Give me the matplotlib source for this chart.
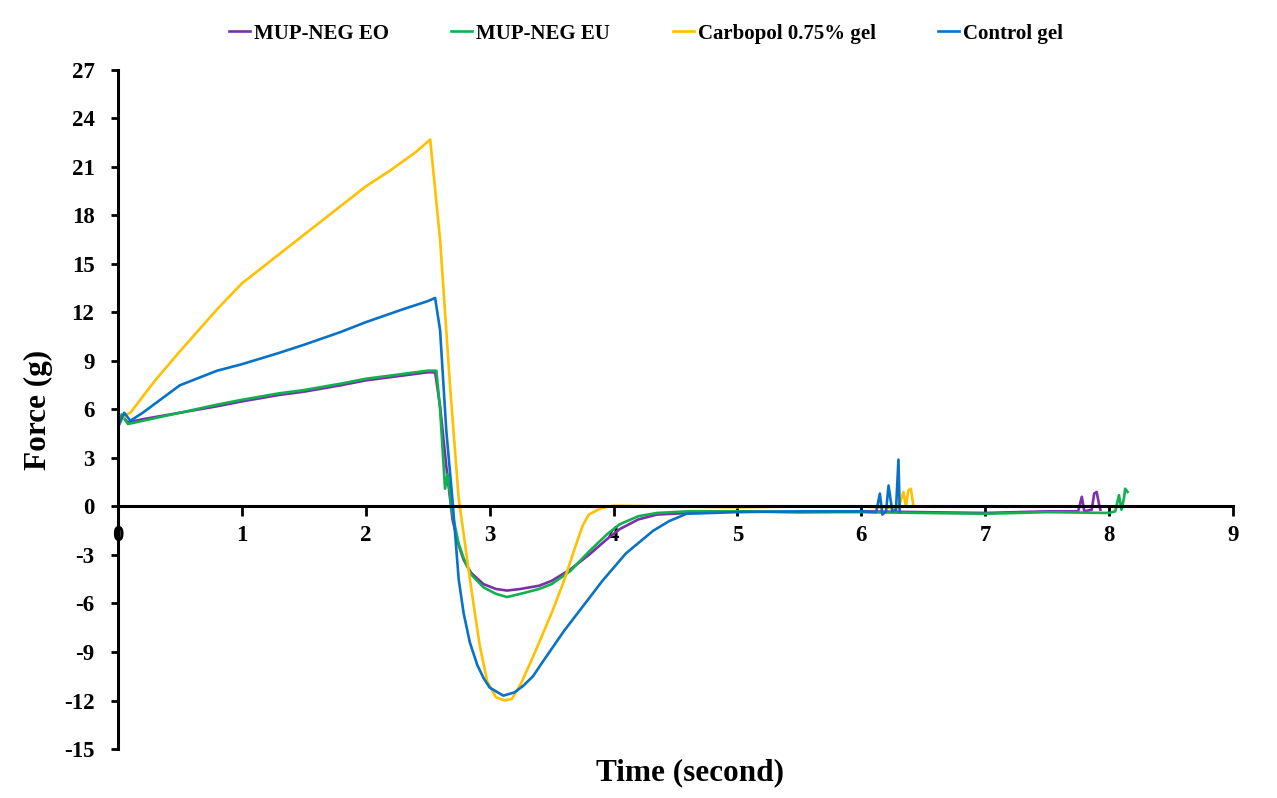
import matplotlib.pyplot as plt

plt.rcParams['font.family'] = ['Liberation Serif', 'DejaVu Serif']
plt.rcParams['font.weight'] = 'bold'
plt.rcParams['axes.unicode_minus'] = False

# Series (time in s, force in g)
eo_t = [0, 0.03, 0.08, 0.2, 0.5, 0.8, 1.0, 1.3, 1.5, 1.8, 2.0, 2.3, 2.5, 2.56,
        2.6, 2.65, 2.7, 2.75, 2.79, 2.85, 2.95, 3.05, 3.14, 3.25, 3.4, 3.5,
        3.65, 3.8, 3.95, 4.05, 4.2, 4.35, 4.6, 5.0, 5.5, 6.0, 6.5, 7.0, 7.5,
        7.75, 7.78, 7.8, 7.86, 7.88, 7.9, 7.92, 7.93]
eo_f = [4.9, 5.6, 5.2, 5.4, 5.8, 6.2, 6.5, 6.9, 7.1, 7.5, 7.8, 8.1, 8.3, 8.3,
        6.2, 2.5, -0.8, -2.4, -3.3, -4.1, -4.8, -5.1, -5.2, -5.1, -4.9, -4.6,
        -3.9, -3.0, -2.0, -1.4, -0.8, -0.5, -0.4, -0.3, -0.35, -0.3, -0.35,
        -0.4, -0.3, -0.3, 0.6, -0.3, -0.2, 0.8, 0.9, 0.1, -0.2]

eu_t = [0, 0.03, 0.08, 0.2, 0.5, 0.8, 1.0, 1.3, 1.5, 1.8, 2.0, 2.3, 2.5, 2.57,
        2.6, 2.64, 2.66, 2.7, 2.75, 2.79, 2.85, 2.95, 3.05, 3.14, 3.25, 3.4,
        3.5, 3.65, 3.8, 3.95, 4.05, 4.2, 4.35, 4.6, 5.0, 5.5, 6.0, 6.5, 7.0,
        7.5, 8.0, 8.05, 8.08, 8.1, 8.12, 8.13, 8.15]
eu_f = [4.9, 5.7, 5.1, 5.3, 5.8, 6.3, 6.6, 7.0, 7.2, 7.6, 7.9, 8.2, 8.4, 8.4,
        6.0, 1.1, 2.0, -0.5, -2.3, -3.2, -4.2, -5.0, -5.4, -5.6, -5.4, -5.1,
        -4.8, -4.0, -2.8, -1.7, -1.1, -0.6, -0.4, -0.3, -0.3, -0.35, -0.35,
        -0.4, -0.45, -0.35, -0.4, -0.3, 0.7, -0.2, 0.5, 1.1, 0.9]

cb_t = [0, 0.05, 0.1, 0.3, 0.5, 0.8, 1.0, 1.3, 1.5, 1.8, 2.0, 2.2, 2.4, 2.52,
        2.6, 2.68, 2.75, 2.85, 2.92, 2.98, 3.05, 3.12, 3.18, 3.25, 3.35, 3.5,
        3.6, 3.7, 3.75, 3.8, 3.9, 4.0, 4.5, 5.0, 5.5, 6.0, 6.3, 6.34, 6.36,
        6.38, 6.4, 6.42]
cb_f = [5.0, 5.6, 5.8, 7.8, 9.6, 12.2, 13.8, 15.6, 16.8, 18.6, 19.8, 20.8,
        21.9, 22.7, 16.5, 7.5, 0.5, -5.0, -8.6, -10.8, -11.8, -12.0, -11.9,
        -11.0, -9.3, -6.6, -4.6, -2.3, -1.2, -0.5, -0.1, 0.05, 0.0, -0.05,
        0.0, 0.0, -0.1, 0.9, 0.0, 1.0, 1.1, 0.1]

ct_t = [0, 0.05, 0.1, 0.2, 0.5, 0.8, 1.0, 1.3, 1.5, 1.8, 2.0, 2.3, 2.5, 2.56,
        2.6, 2.65, 2.7, 2.75, 2.79, 2.84, 2.9, 2.95, 3.0, 3.11, 3.2, 3.27,
        3.35, 3.42, 3.51, 3.6, 3.7, 3.8, 3.91, 4.1, 4.32, 4.45, 4.59, 5.0,
        5.5, 6.0, 6.12, 6.15, 6.17, 6.2, 6.22, 6.25, 6.28, 6.3, 6.31]
ct_f = [4.9, 5.8, 5.3, 5.8, 7.5, 8.4, 8.8, 9.5, 10.0, 10.8, 11.4, 12.2, 12.7,
        12.9, 10.9, 4.7, 0.4, -4.5, -6.6, -8.4, -9.8, -10.6, -11.2, -11.7,
        -11.5, -11.1, -10.5, -9.7, -8.7, -7.7, -6.7, -5.7, -4.6, -2.9, -1.5,
        -0.9, -0.45, -0.35, -0.3, -0.3, -0.35, 0.8, -0.5, -0.3, 1.3, -0.3,
        -0.2, 2.9, -0.3]

labels = ['MUP-NEG EO', 'MUP-NEG EU', 'Carbopol 0.75% gel', 'Control gel']
colors = ['#7B2FA8', '#12B04F', '#FFC000', '#0A72C6']

fig = plt.figure(figsize=(12.77, 7.98), dpi=100)
ax = fig.add_axes([0.0924, 0.0614, 0.8731, 0.8509])

series = [(eo_t, eo_f), (eu_t, eu_f), (cb_t, cb_f), (ct_t, ct_f)]
handles = []
for (t, f), lab, c in zip(series, labels, colors):
    h, = ax.plot(t, f, color=c, lw=1.9, label=lab)
    handles.append(h)

ax.set_xlim(0, 9)
ax.set_ylim(-15, 27)
ax.set_yticks(range(-15, 28, 3))
ax.set_xticks(range(0, 10))
ax.spines['top'].set_visible(False)
ax.spines['right'].set_visible(False)
ax.spines['bottom'].set_position(('data', 0))
ax.spines['left'].set_linewidth(2.2)
ax.spines['bottom'].set_linewidth(2.2)
ax.tick_params(axis='both', width=2, labelsize=16.5)
ax.tick_params(axis='y', length=5, pad=12)
ax.tick_params(axis='x', length=7, pad=6)
for lbl in ax.get_xticklabels() + ax.get_yticklabels():
    lbl.set_fontweight('bold')

ax.set_ylabel('Force (g)', fontsize=22.5, fontweight='bold', labelpad=8)
fig.text(0.54, 0.032, 'Time (second)', fontsize=22.5, fontweight='bold',
         ha='center', va='center')

fig.legend(handles, labels, loc='center', bbox_to_anchor=(0.506, 0.958), ncol=4,
           frameon=False, handlelength=1.0, handletextpad=0.2, columnspacing=3.0,
           prop={'weight': 'bold', 'size': 15})

fig.savefig('out.png', dpi=100)
